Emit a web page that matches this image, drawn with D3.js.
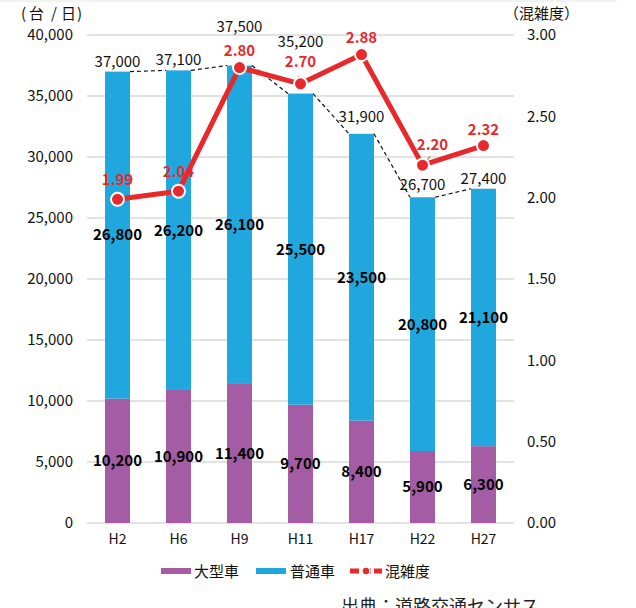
<!DOCTYPE html>
<html><head><meta charset="utf-8">
<script src="https://cdn.jsdelivr.net/npm/d3@7"></script>
<style>
html,body{margin:0;padding:0;background:#fff;}
svg{display:block;font-family:"Noto Sans CJK JP","Noto Sans",sans-serif;}
</style></head>
<body><svg id="c" width="636" height="608"></svg>
<script>
const categories = ["H2","H6","H9","H11","H17","H22","H27"];
const largeVehicles = [10200,10900,11400,9700,8400,5900,6300];
const normalVehicles = [26800,26200,26100,25500,23500,20800,21100];
const totals = [37000,37100,37500,35200,31900,26700,27400];
const congestion = [1.99,2.04,2.80,2.70,2.88,2.20,2.32];
const leftTicks = [0,5000,10000,15000,20000,25000,30000,35000,40000];
const rightTicks = [0,0.5,1.0,1.5,2.0,2.5,3.0];

// layout-only label nudges (pixels)
const totalLabelLift = [5,5,34,47,12,7,5];
const congLabelLift = [14,14,12,17,12,15,11];
const congLabelShift = [0,0,0,0,0,10,0];

const C = {purple:"#A45CA5", blue:"#20A8DE", red:"#E8292B", grid:"#D9D9D9"};
const svg = d3.select("#c");
const L = 87, R = 514, T = 35, B = 523;

const x = d3.scaleBand().domain(categories).range([L,R]).paddingInner(0.59).paddingOuter(0.295);
const y = d3.scaleLinear().domain([0,40000]).range([B,T]);
const y2 = d3.scaleLinear().domain([0,3]).range([B,T]);
const fmt = d3.format(",");

// faint top band
svg.append("rect").attr("x",0).attr("y",0).attr("width",617).attr("height",2).attr("fill","#f3f3f3");

// gridlines
svg.append("g").selectAll("line").data(leftTicks).join("line")
  .attr("x1",L).attr("x2",R).attr("y1",d=>y(d)).attr("y2",d=>y(d))
  .attr("stroke",C.grid).attr("stroke-width",1.5);

// left axis
const la = svg.append("g").attr("transform",`translate(${L},0)`)
  .call(d3.axisLeft(y).tickValues(leftTicks).tickSize(0).tickPadding(14).tickFormat(d=>fmt(d)));
la.select(".domain").remove();
la.selectAll("text").attr("font-size",15).attr("fill","#111").attr("font-family","Noto Sans CJK JP");

// right axis
const ra = svg.append("g").attr("transform",`translate(${R},0)`)
  .call(d3.axisRight(y2).tickValues(rightTicks).tickSize(0).tickPadding(13).tickFormat(d3.format(".2f")));
ra.select(".domain").remove();
ra.selectAll("text").attr("font-size",15).attr("fill","#111").attr("font-family","Noto Sans CJK JP");

// bottom axis
const ba = svg.append("g").attr("transform",`translate(0,${B})`)
  .call(d3.axisBottom(x).tickSize(0).tickPadding(11));
ba.select(".domain").remove();
ba.selectAll("text").attr("font-size",14).attr("fill","#111").attr("font-family","Noto Sans CJK JP");

// axis titles
const lt = svg.append("text").attr("y",19).attr("font-size",15).attr("fill","#111");
lt.append("tspan").attr("x",21).text("(");
lt.append("tspan").attr("x",29).text("台");
lt.append("tspan").attr("x",51).text("/");
lt.append("tspan").attr("x",61).text("日");
lt.append("tspan").attr("x",77).text(")");
svg.append("text").attr("x",504).attr("y",19).attr("font-size",15).attr("fill","#111").text("（混雑度）");

// bars
const bw = x.bandwidth();
svg.append("g").selectAll("rect").data(categories).join("rect")
  .attr("x",d=>x(d)).attr("width",bw)
  .attr("y",(d,i)=>y(largeVehicles[i])).attr("height",(d,i)=>B-y(largeVehicles[i]))
  .attr("fill",C.purple);
svg.append("g").selectAll("rect").data(categories).join("rect")
  .attr("x",d=>x(d)).attr("width",bw)
  .attr("y",(d,i)=>y(largeVehicles[i]+normalVehicles[i]))
  .attr("height",(d,i)=>y(largeVehicles[i])-y(largeVehicles[i]+normalVehicles[i]))
  .attr("fill",C.blue);

// series lines (dashed) connecting bar tops
const segs = d3.pairs(categories.map((c,i)=>({c,i})));
svg.append("g").selectAll("line").data(segs).join("line")
  .attr("x1",d=>x(d[0].c)+bw).attr("y1",d=>y(totals[d[0].i]))
  .attr("x2",d=>x(d[1].c)).attr("y2",d=>y(totals[d[1].i]))
  .attr("stroke","#111").attr("stroke-width",1.2).attr("stroke-dasharray","4,3");

// total labels
svg.append("g").selectAll("text").data(categories).join("text")
  .attr("x",d=>x(d)+bw/2).attr("y",(d,i)=>y(totals[i])-totalLabelLift[i])
  .attr("text-anchor","middle").attr("font-size",15).attr("fill","#111")
  .text((d,i)=>fmt(totals[i]));

// segment labels
svg.append("g").selectAll("text").data(categories).join("text")
  .attr("x",d=>x(d)+bw/2).attr("y",(d,i)=>(y(largeVehicles[i])+y(largeVehicles[i]+normalVehicles[i]))/2)
  .attr("dy","0.36em").attr("text-anchor","middle").attr("font-size",15).attr("font-weight","bold").attr("fill","#000")
  .text((d,i)=>fmt(normalVehicles[i]));
svg.append("g").selectAll("text").data(categories).join("text")
  .attr("x",d=>x(d)+bw/2).attr("y",(d,i)=>(y(0)+y(largeVehicles[i]))/2)
  .attr("dy","0.36em").attr("text-anchor","middle").attr("font-size",15).attr("font-weight","bold").attr("fill","#000")
  .text((d,i)=>fmt(largeVehicles[i]));

// congestion labels (under line)
const cx = (d)=>x(d)+bw/2;
svg.append("g").selectAll("text").data(categories).join("text")
  .attr("x",(d,i)=>cx(d)+congLabelShift[i]).attr("y",(d,i)=>y2(congestion[i])-congLabelLift[i])
  .attr("text-anchor","middle").attr("font-size",15).attr("font-weight","bold").attr("fill",C.red)
  .text((d,i)=>d3.format(".2f")(congestion[i]));

// small leader lines
const leaders = [0,1,3,5];
svg.append("g").selectAll("line").data(leaders).join("line")
  .attr("x1",i=>cx(categories[i])+(i===5?8:-2)).attr("y1",i=>y2(congestion[i])-(i===5?9:8))
  .attr("x2",i=>cx(categories[i])).attr("y2",i=>y2(congestion[i]))
  .attr("stroke","#999").attr("stroke-width",1.5);

// congestion line
const line = d3.line().x((d,i)=>cx(categories[i])).y(d=>y2(d));
svg.append("path").datum(congestion).attr("d",line)
  .attr("fill","none").attr("stroke",C.red).attr("stroke-width",5).attr("stroke-linejoin","round");
svg.append("g").selectAll("circle").data(congestion).join("circle")
  .attr("cx",(d,i)=>cx(categories[i])).attr("cy",d=>y2(d)).attr("r",6.5)
  .attr("fill",C.red).attr("stroke","#fff").attr("stroke-width",2);

// legend
const lg = svg.append("g");
lg.append("rect").attr("x",161).attr("y",568).attr("width",30).attr("height",6).attr("fill",C.purple);
lg.append("text").attr("x",194).attr("y",577).attr("font-size",15).attr("fill","#111").text("大型車");
lg.append("rect").attr("x",256).attr("y",568).attr("width",30).attr("height",6).attr("fill",C.blue);
lg.append("text").attr("x",290).attr("y",577).attr("font-size",15).attr("fill","#111").text("普通車");
lg.append("line").attr("x1",350).attr("x2",382).attr("y1",571).attr("y2",571)
  .attr("stroke",C.red).attr("stroke-width",5).attr("stroke-dasharray","9,3");
lg.append("circle").attr("cx",366).attr("cy",571).attr("r",4).attr("fill",C.red).attr("stroke","#fff").attr("stroke-width",1.5);
lg.append("text").attr("x",385).attr("y",577).attr("font-size",15).attr("fill","#111").text("混雑度");

// source
svg.append("text").attr("x",341).attr("y",613).attr("font-size",18).attr("fill","#222").text("出典：道路交通センサス");
</script></body></html>
